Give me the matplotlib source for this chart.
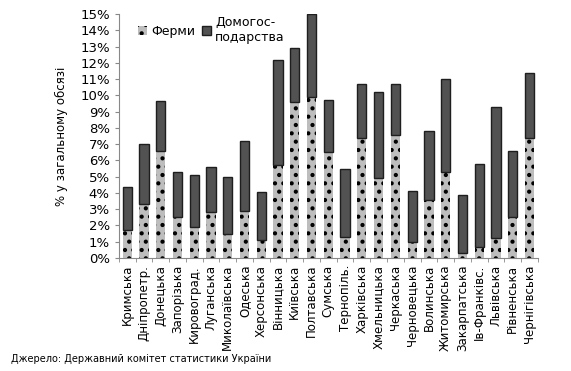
import matplotlib.pyplot as plt
import numpy as np
from matplotlib.ticker import PercentFormatter

# регіони та частки (у % від загального обсягу)
regions = ["Кримська", "Дніпропетр.", "Донецька", "Запорізька", "Кировоград.",
           "Луганська", "Миколаївська", "Одеська", "Херсонська", "Вінницька",
           "Київська", "Полтавська", "Сумська", "Тернопіль.", "Харківська",
           "Хмельницька", "Черкаська", "Черновецька", "Волинська", "Житомирська",
           "Закарпатська", "Ів-Франківс.", "Львівська", "Рівненська", "Чернігівська"]
fermy = [1.7, 3.3, 6.6, 2.5, 1.9, 2.8, 1.5, 2.9, 1.1, 5.7,
         9.6, 9.9, 6.5, 1.3, 7.4, 4.9, 7.55, 1.0, 3.55, 5.3,
         0.3, 0.65, 1.2, 2.5, 7.4]
total = [4.35, 7.0, 9.65, 5.3, 5.1, 5.6, 5.0, 7.2, 4.05, 12.2,
         12.9, 15.0, 9.7, 5.5, 10.7, 10.2, 10.7, 4.1, 7.8, 11.0,
         3.9, 5.8, 9.3, 6.6, 11.4]
domogosp = [t - f for t, f in zip(total, fermy)]

plt.rcParams['font.family'] = ['DejaVu Sans']
plt.rcParams['hatch.linewidth'] = 1.8

fig = plt.figure(figsize=(5.71, 3.71), dpi=100)
ax = fig.add_axes([0.208, 0.3046, 0.734, 0.6574])

x = np.arange(len(regions))
w = 0.55
ax.bar(x, fermy, w, color='#bdbdbd', hatch='..', edgecolor='black', linewidth=0,
       label='Ферми')
ax.bar(x, domogosp, w, bottom=fermy, color='#525252', edgecolor='#1e1e1e',
       linewidth=1.0, label='Домогос-\nподарства')

ax.set_xlim(-0.5, len(regions) - 0.5)
ax.set_ylim(0, 15)
ax.set_yticks(range(0, 16))
ax.yaxis.set_major_formatter(PercentFormatter(decimals=0))
ax.set_xticks(x)
ax.set_xticklabels(regions, rotation=90, fontsize=8.5)
ax.set_xticks(np.arange(-0.5, len(regions), 1), minor=True)
ax.tick_params(axis='x', which='major', length=0, pad=5)
ax.tick_params(axis='x', which='minor', length=3, color='#888888')
ax.tick_params(axis='y', labelsize=9.5, length=3, color='#888888')
ax.set_ylabel('% у загальному обсязі', fontsize=8.5)
ax.yaxis.set_label_coords(-0.12, 0.5)
for s in ['top', 'right']:
    ax.spines[s].set_visible(False)
for s in ['left', 'bottom']:
    ax.spines[s].set_color('#888888')

ax.legend(loc='upper left', bbox_to_anchor=(0.02, 1.04), ncol=2, frameon=False,
          fontsize=9, handlelength=0.7, handleheight=0.7, handletextpad=0.3,
          columnspacing=0.6)

fig.text(0.02, 0.025, 'Джерело: Державний комітет статистики України', fontsize=7)

fig.savefig('out.png', dpi=100)
